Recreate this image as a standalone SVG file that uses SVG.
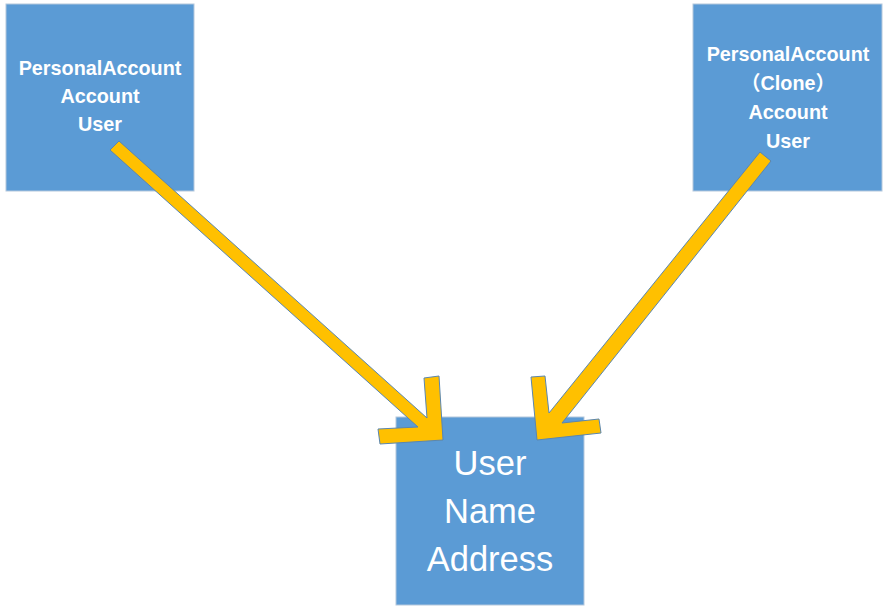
<svg xmlns="http://www.w3.org/2000/svg" width="889" height="615" viewBox="0 0 889 615">
  <style>
    .box { fill: #5B9BD5; stroke: #B4C7DC; stroke-width: 1; }
    .lbl { fill: #FFFFFF; font-family: "Liberation Sans", "Noto Sans CJK SC", sans-serif; font-weight: bold; font-size: 19.8px; text-anchor: middle; }
    .big { fill: #FFFFFF; font-family: "Liberation Sans", sans-serif; font-size: 34.5px; text-anchor: middle; }
    .arrow { fill: #FFC000; stroke: #5A86B0; stroke-width: 1; stroke-linejoin: miter; }
  </style>
  <rect x="0" y="0" width="889" height="615" fill="#FFFFFF"/>
  <g id="node-left">
    <rect class="box" x="6" y="4" width="188" height="187"/>
    <text class="lbl" x="100" y="75">PersonalAccount</text>
    <text class="lbl" x="100" y="103">Account</text>
    <text class="lbl" x="100" y="131">User</text>
  </g>
  <g id="node-right">
    <rect class="box" x="693" y="4" width="189" height="187"/>
    <text class="lbl" x="788" y="61">PersonalAccount</text>
    <text class="lbl" x="788" y="90">（Clone）</text>
    <text class="lbl" x="788" y="119">Account</text>
    <text class="lbl" x="788" y="148">User</text>
  </g>
  <g id="node-user">
    <rect class="box" x="396" y="417" width="188" height="188"/>
    <text class="big" x="490" y="475">User</text>
    <text class="big" x="490" y="523">Name</text>
    <text class="big" x="490" y="571">Address</text>
  </g>
  <g id="connectors">
    <polygon class="arrow" points="119,141 427,418 424,378 439,376 443,440 380,444 378,429 418,427 110,150"/>
    <polygon class="arrow" points="760,152 549,413 545,376 531,377 537,440 601,433 599,419 562,423 771,161"/>
  </g>
</svg>
